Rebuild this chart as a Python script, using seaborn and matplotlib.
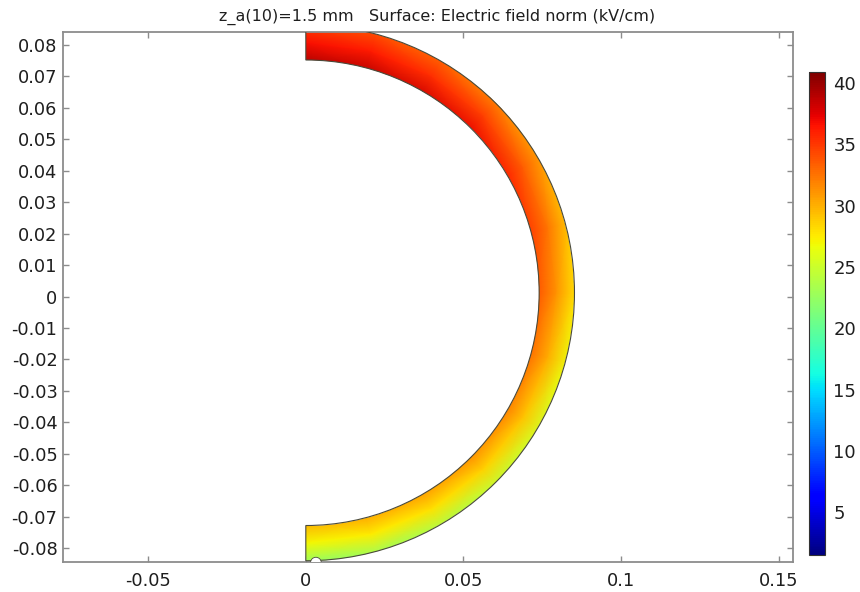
import numpy as np
import matplotlib
matplotlib.use("Agg")
import matplotlib.pyplot as plt
import matplotlib.patches as mpatches
import seaborn as sns

# ---------------- data ----------------
title_text = "z_a(10)=1.5 mm   Surface: Electric field norm (kV/cm)"
theta_deg = [-90, -75, -60, -45, -30, -15, 0, 15, 30, 45, 60, 75, 90]
field_inner = [30.5, 31.0, 31.5, 32.0, 32.6, 33.4, 34.3, 35.3, 36.3, 37.3, 38.2, 39.0, 39.6]
field_mid = [27.0, 27.4, 27.9, 28.5, 29.2, 30.1, 31.1, 32.3, 33.5, 34.6, 35.5, 36.2, 36.6]
field_outer = [22.0, 22.8, 23.6, 24.5, 25.5, 26.5, 27.6, 29.0, 30.5, 31.8, 33.0, 33.8, 34.2]
x_ticks = [-0.05, 0.0, 0.05, 0.1, 0.15]
x_labels = ["-0.05", "0", "0.05", "0.1", "0.15"]
y_ticks = [0.08, 0.07, 0.06, 0.05, 0.04, 0.03, 0.02, 0.01, 0.0,
           -0.01, -0.02, -0.03, -0.04, -0.05, -0.06, -0.07, -0.08]
y_labels = ["0.08", "0.07", "0.06", "0.05", "0.04", "0.03", "0.02", "0.01", "0",
            "-0.01", "-0.02", "-0.03", "-0.04", "-0.05", "-0.06", "-0.07", "-0.08"]
cbar_ticks = [5, 10, 15, 20, 25, 30, 35, 40]
e_min, e_max = 1.5, 40.9

# geometry of the shell (m)
r_inner, r_outer = 0.0740, 0.0852
center_y = 0.0012

# ---------------- style ----------------
sns.set_theme(style="ticks")
plt.rcParams["font.family"] = ["DejaVu Sans"]
plt.rcParams["axes.unicode_minus"] = False

cmap = matplotlib.colormaps["jet"]

fig = plt.figure(figsize=(8.6, 5.92), dpi=100)
ax = fig.add_axes([63 / 860, 30 / 592, 730 / 860, 530 / 592])

# polar mesh (slightly larger than the shell, clipped to it afterwards)
T = np.deg2rad(np.array(theta_deg, dtype=float))[None, :]
R = np.array([r_inner - 0.002, 0.5 * (r_inner + r_outer), r_outer * 1.015])[:, None]
X = R * np.cos(T)
Y = center_y + R * np.sin(T)
C = np.array([field_inner, field_mid, field_outer])

mesh = ax.pcolormesh(X, Y, C, shading="gouraud", cmap=cmap, vmin=e_min, vmax=e_max)

shell = mpatches.Wedge((0.0, center_y), r_outer, -90, 90, width=r_outer - r_inner,
                       facecolor="none", edgecolor="#4a4a3a", linewidth=0.8, zorder=3)
ax.add_patch(shell)
mesh.set_clip_path(shell)

notch = mpatches.Circle((0.0032, -0.0846), 0.0017, facecolor="white",
                        edgecolor="#4a4a3a", linewidth=0.6, zorder=4)
ax.add_patch(notch)

ax.set_xlim(-0.077, 0.1545)
ax.set_ylim(-0.0844, 0.0841)
ax.set_xticks(x_ticks)
ax.set_xticklabels(x_labels)
ax.set_yticks(y_ticks)
ax.set_yticklabels(y_labels)

frame_col = "#8c8c8c"
for sp in ax.spines.values():
    sp.set_visible(True)
    sp.set_color(frame_col)
    sp.set_linewidth(1.3)
ax.tick_params(axis="both", which="major", direction="in", length=4, width=1.0,
               color=frame_col, labelcolor="#1e1e1e", labelsize=12.8,
               top=True, right=True, pad=4)
ax.tick_params(axis="x", pad=7)
ax.set_title(title_text, fontsize=11.5, color="#1e1e1e", pad=8, x=0.512)

# colorbar
cax = fig.add_axes([809 / 860, 37 / 592, 16 / 860, 483 / 592])
cb = fig.colorbar(mesh, cax=cax, ticks=cbar_ticks)
cb.outline.set_edgecolor("#333333")
cb.outline.set_linewidth(0.8)
cax.tick_params(direction="in", length=3, width=0.8, color="#333333",
                labelsize=13, labelcolor="#1e1e1e", left=True, right=True, pad=6)

fig.savefig("out.png", dpi=100)
